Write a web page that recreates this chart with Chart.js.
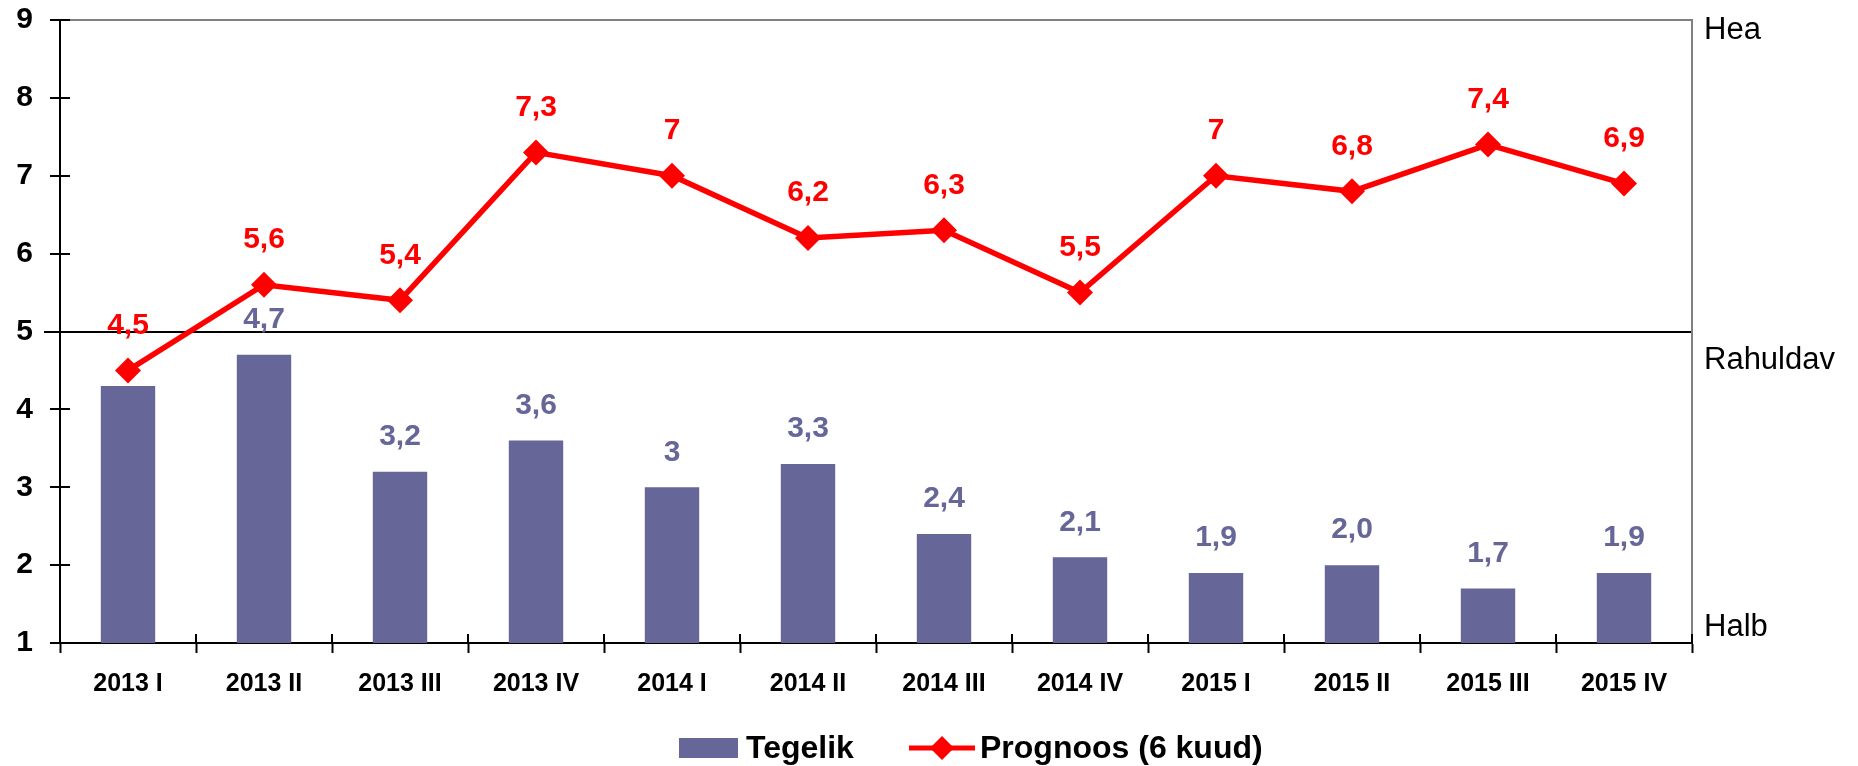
<!DOCTYPE html>
<html>
<head>
<meta charset="utf-8">
<script src="https://cdn.jsdelivr.net/npm/chart.js@4"></script>
<style>
  html, body { margin: 0; padding: 0; background: #fff; }
  #wrap { width: 1858px; height: 766px; position: relative; }
</style>
</head>
<body>
<div id="wrap"><canvas id="chart"></canvas></div>
<script>
// data
const quarters = ['2013 I', '2013 II', '2013 III', '2013 IV', '2014 I', '2014 II',
                  '2014 III', '2014 IV', '2015 I', '2015 II', '2015 III', '2015 IV'];
const actual = [4.3, 4.7, 3.2, 3.6, 3, 3.3, 2.4, 2.1, 1.9, 2.0, 1.7, 1.9];
const actualText = ['', '4,7', '3,2', '3,6', '3', '3,3', '2,4', '2,1', '1,9', '2,0', '1,7', '1,9'];
const forecast = [4.5, 5.6, 5.4, 7.3, 7, 6.2, 6.3, 5.5, 7, 6.8, 7.4, 6.9];
const forecastText = ['4,5', '5,6', '5,4', '7,3', '7', '6,2', '6,3', '5,5', '7', '6,8', '7,4', '6,9'];
const yTicks = [1, 2, 3, 4, 5, 6, 7, 8, 9];
const sideLabels = [['Hea', 8.87], ['Rahuldav', 4.63], ['Halb', 1.2]];

const BAR = '#666699';
const RED = '#ff0000';
const FONT = "'Liberation Sans', Arial, sans-serif";

// extra drawing: inner tick halves, frame, value labels, side labels, legend
const extras = {
    id: 'extras',
    afterDatasetsDraw(chart) {
        const ctx = chart.ctx;
        const area = chart.chartArea;
        const y = chart.scales.y;
        ctx.save();

        // gray frame top and right
        ctx.strokeStyle = '#808080';
        ctx.lineWidth = 2;
        ctx.beginPath();
        ctx.moveTo(area.left + 10, area.top);
        ctx.lineTo(area.right, area.top);
        ctx.lineTo(area.right, area.bottom);
        ctx.stroke();

        // ticks crossing the axes
        ctx.strokeStyle = '#000';
        ctx.lineWidth = 2;
        ctx.beginPath();
        yTicks.forEach(v => {
            const py = Math.round(y.getPixelForValue(v));
            ctx.moveTo(v === 5 ? area.left - 16 : area.left, py);
            ctx.lineTo(area.left + 10, py);
        });
        for (let i = 0; i <= quarters.length; i++) {
            const px = Math.round(area.left + (area.right - area.left) * i / quarters.length);
            ctx.moveTo(px, area.bottom);
            ctx.lineTo(px, area.bottom - 9);
        }
        ctx.stroke();

        // value labels
        ctx.textAlign = 'center';
        ctx.textBaseline = 'middle';
        ctx.font = 'bold 30px ' + FONT;
        const bars = chart.getDatasetMeta(1).data;
        ctx.fillStyle = BAR;
        bars.forEach((el, i) => {
            if (actualText[i]) ctx.fillText(actualText[i], el.x, el.y - 35);
        });
        const pts = chart.getDatasetMeta(0).data;
        ctx.fillStyle = RED;
        pts.forEach((el, i) => {
            ctx.fillText(forecastText[i], el.x, el.y - 45);
        });

        // side labels
        ctx.textAlign = 'left';
        ctx.fillStyle = '#000';
        ctx.font = '31px ' + FONT;
        sideLabels.forEach(([t, v]) => {
            ctx.fillText(t, area.right + 12, y.getPixelForValue(v));
        });

        // legend
        const ly = 748;
        ctx.font = 'bold 32px ' + FONT;
        ctx.fillStyle = BAR;
        ctx.fillRect(679, ly - 10, 59, 20);
        ctx.fillStyle = '#000';
        ctx.fillText('Tegelik', 746, ly + 1);
        ctx.strokeStyle = RED;
        ctx.lineWidth = 5;
        ctx.beginPath();
        ctx.moveTo(909, ly);
        ctx.lineTo(975, ly);
        ctx.stroke();
        ctx.fillStyle = RED;
        ctx.beginPath();
        ctx.moveTo(942, ly - 12);
        ctx.lineTo(954, ly);
        ctx.lineTo(942, ly + 12);
        ctx.lineTo(930, ly);
        ctx.closePath();
        ctx.fill();
        ctx.fillStyle = '#000';
        ctx.fillText('Prognoos (6 kuud)', 980, ly + 1);

        ctx.restore();
    }
};

new Chart(document.getElementById('chart'), {
    data: {
        labels: quarters,
        datasets: [{
            type: 'line',
            label: 'Prognoos (6 kuud)',
            data: forecast,
            borderColor: RED,
            backgroundColor: RED,
            borderWidth: 5.5,
            pointStyle: 'rectRot',
            pointRadius: 13,
            pointHoverRadius: 13,
            pointBorderWidth: 0,
            tension: 0,
            order: 0
        }, {
            type: 'bar',
            label: 'Tegelik',
            data: actual,
            backgroundColor: BAR,
            barPercentage: 0.4,
            categoryPercentage: 1.0,
            order: 1
        }]
    },
    options: {
        responsive: true,
        maintainAspectRatio: false,
        animation: false,
        layout: { autoPadding: false, padding: { top: 20, right: 166, bottom: 63, left: 0 } },
        plugins: {
            legend: { display: false },
            tooltip: { enabled: false }
        },
        scales: {
            x: {
                offset: true,
                grid: {
                    offset: true,
                    drawOnChartArea: false,
                    tickLength: 10,
                    tickColor: '#000',
                    tickWidth: 2
                },
                border: { color: '#000', width: 2 },
                ticks: {
                    color: '#000',
                    padding: 16,
                    maxRotation: 0,
                    font: { family: FONT, size: 25, weight: 'bold' }
                },
                afterFit: s => { s.height = 60; s.paddingLeft = 0; s.paddingRight = 0; }
            },
            y: {
                min: 1,
                max: 9,
                grid: {
                    color: c => c.tick && c.tick.value === 5 ? '#000' : 'rgba(0,0,0,0)',
                    lineWidth: 2,
                    tickLength: 10,
                    tickColor: '#000',
                    tickWidth: 2
                },
                border: { color: '#000', width: 2 },
                ticks: {
                    stepSize: 1,
                    color: '#000',
                    padding: 17,
                    font: { family: FONT, size: 30, weight: 'bold' }
                },
                afterFit: s => { s.width = 60; s.paddingTop = 0; s.paddingBottom = 0; }
            }
        }
    },
    plugins: [extras]
});
</script>
</body>
</html>
